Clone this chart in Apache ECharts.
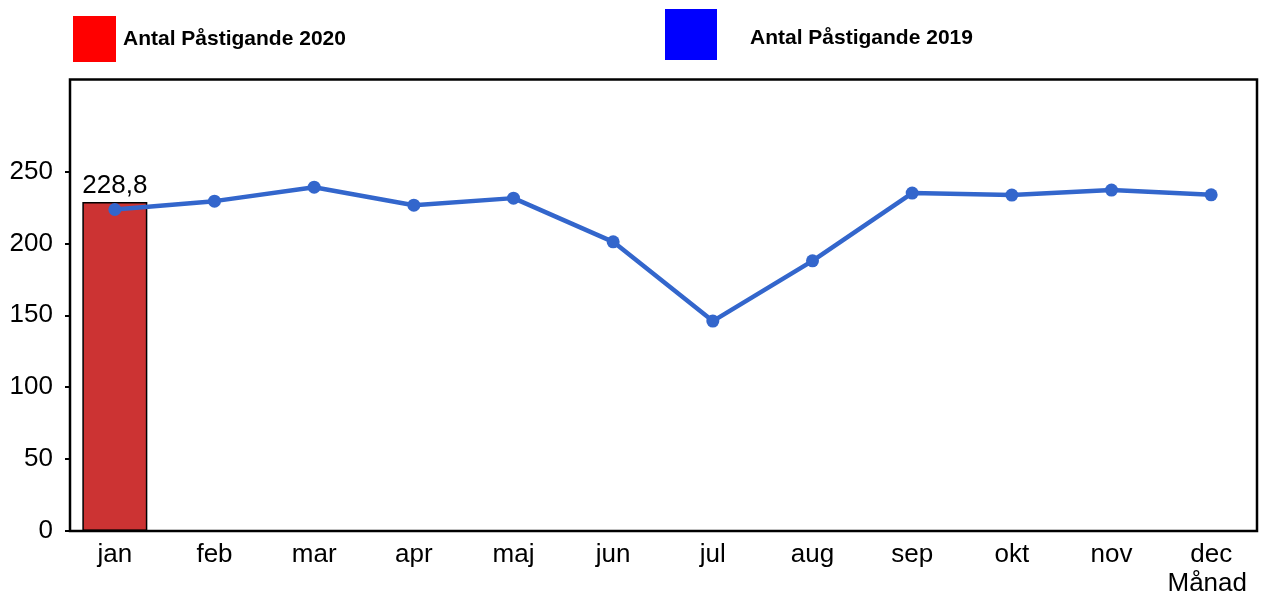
<!DOCTYPE html>
<html>
<head>
<meta charset="utf-8">
<script src="https://cdn.jsdelivr.net/npm/echarts@6/dist/echarts.min.js"></script>
<style>
  html, body { margin: 0; padding: 0; background: #fff; }
  #chart { width: 1261px; height: 594px; }
</style>
</head>
<body>
<div id="chart"></div>
<script>
const months = ['jan', 'feb', 'mar', 'apr', 'maj', 'jun', 'jul', 'aug', 'sep', 'okt', 'nov', 'dec']
const values2020 = [228.8, null, null, null, null, null, null, null, null, null, null, null]
const values2019 = [223.6, 229.4, 239.1, 226.6, 231.5, 201.1, 146.0, 187.9, 235.0, 233.6, 237.1, 233.8]
const yTicks = [0, 50, 100, 150, 200, 250]

const chart = echarts.init(document.getElementById('chart'))
const font = 'Liberation Sans, Arial, sans-serif'

const option = {
  animation: false,
  textStyle: { fontFamily: font },
  grid: { left: 65, right: 0, top: 79.5, bottom: 63, containLabel: false, outerBoundsMode: 'none' },
  legend: [
    {
      left: 68, top: 11,
      itemWidth: 43, itemHeight: 46,
      icon: 'rect',
      data: [{ name: 'Antal Påstigande 2020', itemStyle: { color: '#ff0000', borderWidth: 0 } }],
      textStyle: { fontSize: 21, fontWeight: 'bold', color: '#000', padding: [0, 0, 0, 2] },
    },
    {
      left: 660, top: 4,
      itemWidth: 52, itemHeight: 51,
      icon: 'rect',
      data: [{ name: 'Antal Påstigande 2019', itemStyle: { color: '#0000ff', borderWidth: 0 } }],
      formatter: '{t|{name}}',
      textStyle: {
        fontSize: 21, fontWeight: 'bold', color: '#000', padding: [0, 0, 0, 28],
        rich: { t: { fontSize: 21, fontWeight: 'bold', color: '#000', padding: [8, 0, 0, 0] } },
      },
    },
  ],
  xAxis: {
    type: 'category',
    data: months,
    axisLine: { show: false },
    axisTick: { show: false },
    axisLabel: { color: '#000', fontSize: 26, margin: 11 },
    name: 'Månad',
    nameLocation: 'end',
    nameGap: -14,
    nameTextStyle: { color: '#000', fontSize: 26, align: 'right', verticalAlign: 'top', padding: [40, 0, 0, 0] },
  },
  yAxis: {
    type: 'value',
    min: 0,
    max: 314,
    interval: 50,
    offset: -5,
    splitLine: { show: false },
    axisLine: { show: false },
    axisTick: { show: true, length: 5, lineStyle: { color: '#000', width: 2 }, customValues: yTicks },
    axisLabel: { color: '#000', fontSize: 26, margin: 17, customValues: yTicks },
  },
  graphic: [
    {
      type: 'rect',
      shape: { x: 70, y: 79.5, width: 1187, height: 451.5 },
      style: { fill: 'none', stroke: '#000', lineWidth: 2.5 },
      z: 100,
    },
  ],
  series: [
    {
      name: 'Antal Påstigande 2020',
      type: 'bar',
      data: values2020,
      barWidth: 65,
      itemStyle: { color: '#cc3333', borderColor: '#000', borderWidth: 1.5 },
      label: {
        show: true,
        position: 'top',
        distance: 3,
        color: '#000',
        fontSize: 26,
        formatter: (p) => String(p.value).replace('.', ','),
      },
      z: 2,
    },
    {
      name: 'Antal Påstigande 2019',
      type: 'line',
      data: values2019,
      symbol: 'circle',
      symbolSize: 13,
      lineStyle: { color: '#3366cc', width: 4.5 },
      itemStyle: { color: '#3366cc' },
      z: 3,
    },
  ],
}

chart.setOption(option)
window.addEventListener('resize', function () {
  chart.resize()
})
</script>
</body>
</html>
